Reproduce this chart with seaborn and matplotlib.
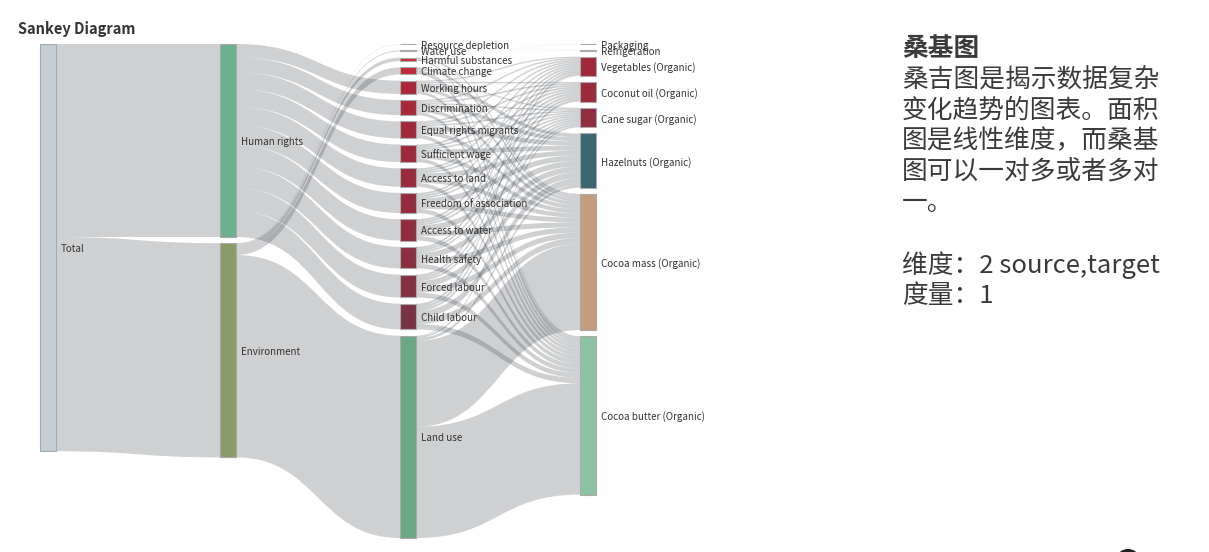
import numpy as np
import matplotlib
matplotlib.use("Agg")
import matplotlib.pyplot as plt
import seaborn as sns
from matplotlib.path import Path
from matplotlib.patches import PathPatch, Rectangle, Circle

# Columns of the sankey, top to bottom
col_source = ["Total"]
col_group = ["Human rights", "Environment"]
col_impact = ["Resource depletion", "Water use", "Harmful substances", "Climate change",
              "Working hours", "Discrimination", "Equal rights migrants", "Sufficient wage",
              "Access to land", "Freedom of association", "Access to water", "Health safety",
              "Forced labour", "Child labour", "Land use"]
col_product = ["Packaging", "Refrigeration", "Vegetables (Organic)", "Coconut oil (Organic)",
               "Cane sugar (Organic)", "Hazelnuts (Organic)", "Cocoa mass (Organic)",
               "Cocoa butter (Organic)"]
columns = [col_source, col_group, col_impact, col_product]

products = ["Vegetables (Organic)", "Cocoa butter (Organic)", "Coconut oil (Organic)",
            "Hazelnuts (Organic)", "Cocoa mass (Organic)", "Cane sugar (Organic)"]

# Links (source, target, value)
link_source = (["Total", "Total"]
               + ["Human rights"] * 10
               + ["Environment"] * 5
               + ["Land use"] * 5
               + ["Climate change"] * 6
               + ["Harmful substances"] * 5
               + ["Water use"] * 5
               + ["Resource depletion"] * 4)
link_target = (["Human rights", "Environment"]
               + ["Child labour", "Forced labour", "Health safety", "Access to water",
                  "Freedom of association", "Access to land", "Sufficient wage",
                  "Equal rights migrants", "Discrimination", "Working hours"]
               + ["Land use", "Climate change", "Harmful substances", "Water use", "Resource depletion"]
               + ["Cocoa butter (Organic)", "Cocoa mass (Organic)", "Hazelnuts (Organic)",
                  "Cane sugar (Organic)", "Vegetables (Organic)"]
               + ["Cocoa butter (Organic)", "Cocoa mass (Organic)", "Cane sugar (Organic)",
                  "Hazelnuts (Organic)", "Packaging", "Refrigeration"]
               + ["Cocoa butter (Organic)", "Cocoa mass (Organic)", "Cane sugar (Organic)",
                  "Hazelnuts (Organic)", "Packaging"]
               + ["Cocoa butter (Organic)", "Cocoa mass (Organic)", "Hazelnuts (Organic)",
                  "Cane sugar (Organic)", "Refrigeration"]
               + ["Cocoa butter (Organic)", "Cocoa mass (Organic)", "Packaging", "Refrigeration"])
link_value = ([0.3082, 0.3421]
              + [0.0411, 0.0366, 0.0345, 0.0341, 0.0321, 0.0294, 0.0281, 0.0271, 0.0240, 0.0212]
              + [0.3232, 0.0113, 0.0057, 0.0015, 0.0004]
              + [0.1777, 0.1372, 0.0043, 0.0030, 0.0010]
              + [0.0068, 0.0039, 0.0003, 0.0002, 0.00005, 0.00005]
              + [0.0026, 0.0025, 0.0003, 0.0002, 0.0001]
              + [0.0007, 0.0005, 0.0001, 0.0001, 0.0001]
              + [0.0002, 0.0001, 0.00005, 0.00005])

# Human rights categories -> products (order as in `products`)
hr_split = {
    "Child labour":           [0.0040, 0.0087, 0.0042, 0.0108, 0.0098, 0.0036],
    "Forced labour":          [0.0035, 0.0077, 0.0038, 0.0097, 0.0087, 0.0032],
    "Health safety":          [0.0033, 0.0073, 0.0035, 0.0092, 0.0082, 0.0030],
    "Access to water":        [0.0033, 0.0072, 0.0035, 0.0091, 0.0080, 0.0030],
    "Freedom of association": [0.0031, 0.0068, 0.0033, 0.0086, 0.0075, 0.0028],
    "Access to land":         [0.0028, 0.0062, 0.0030, 0.0078, 0.0070, 0.0026],
    "Sufficient wage":        [0.0027, 0.0059, 0.0029, 0.0075, 0.0066, 0.0025],
    "Equal rights migrants":  [0.0026, 0.0057, 0.0027, 0.0072, 0.0064, 0.0025],
    "Discrimination":         [0.0023, 0.0050, 0.0024, 0.0064, 0.0057, 0.0022],
    "Working hours":          [0.0020, 0.0045, 0.0021, 0.0056, 0.0051, 0.0019],
}
for cat, vals in hr_split.items():
    for prod, v in zip(products, vals):
        link_source.append(cat)
        link_target.append(prod)
        link_value.append(v)

node_colors = {
    "Total": "#c5cfd8", "Human rights": "#6bb08f", "Environment": "#8a9c66",
    "Resource depletion": "#c62a3b", "Water use": "#c62a3b", "Harmful substances": "#c8283a",
    "Climate change": "#c22a3a", "Working hours": "#ad283a", "Discrimination": "#a8283a",
    "Equal rights migrants": "#a2293b", "Sufficient wage": "#9d2a3c", "Access to land": "#982b3d",
    "Freedom of association": "#942c3e", "Access to water": "#8f2d3f", "Health safety": "#8a2e40",
    "Forced labour": "#853042", "Child labour": "#7a3345", "Land use": "#69a883",
    "Packaging": "#a0283a", "Refrigeration": "#a0283a", "Vegetables (Organic)": "#a0283a",
    "Coconut oil (Organic)": "#9a2b3c", "Cane sugar (Organic)": "#902e40",
    "Hazelnuts (Organic)": "#3a6672", "Cocoa mass (Organic)": "#c49c7e",
    "Cocoa butter (Organic)": "#8cc3a3",
}

# ---- layout ----
W, H = 1209, 552
top, bottom = 44, 538
x_left, x_step, node_w = 40, 180, 16
gap = 6.2

val_in = {}
val_out = {}
for s, t, v in zip(link_source, link_target, link_value):
    val_out[s] = val_out.get(s, 0) + v
    val_in[t] = val_in.get(t, 0) + v
node_val = {n: max(val_in.get(n, 0), val_out.get(n, 0)) for col in columns for n in col}

ky = min((bottom - top - (len(col) - 1) * gap) / sum(node_val[n] for n in col) for col in columns)

pos = {}
for i, col in enumerate(columns):
    y = top
    for n in col:
        h = node_val[n] * ky
        pos[n] = (x_left + i * x_step, y, h)
        y += h + gap

# ---- draw ----
sns.set_theme(style="white")
plt.rcParams["font.family"] = ["Noto Sans CJK SC", "DejaVu Sans"]

fig = plt.figure(figsize=(W / 100, H / 100), dpi=100)
ax = fig.add_axes([0, 0, 1, 1])
ax.set_xlim(0, W)
ax.set_ylim(H, 0)
ax.axis("off")

# link offsets: out-links ordered by target y, in-links by source y
links = list(zip(link_source, link_target, link_value))
out_off = {}
in_off = {}
for n in node_val:
    outs = sorted([l for l in links if l[0] == n], key=lambda l: pos[l[1]][1])
    y = pos[n][1]
    for l in outs:
        out_off[(l[0], l[1])] = y
        y += l[2] * ky
    ins = sorted([l for l in links if l[1] == n], key=lambda l: pos[l[0]][1])
    y = pos[n][1]
    for l in ins:
        in_off[(l[0], l[1])] = y
        y += l[2] * ky

for s, t, v in links:
    x0 = pos[s][0] + node_w
    x1 = pos[t][0]
    sy = out_off[(s, t)]
    ty = in_off[(s, t)]
    h = v * ky
    xm = (x0 + x1) / 2
    verts = [(x0, sy), (xm, sy), (xm, ty), (x1, ty),
             (x1, ty + h), (xm, ty + h), (xm, sy + h), (x0, sy + h), (x0, sy)]
    codes = [Path.MOVETO, Path.CURVE4, Path.CURVE4, Path.CURVE4,
             Path.LINETO, Path.CURVE4, Path.CURVE4, Path.CURVE4, Path.CLOSEPOLY]
    ax.add_patch(PathPatch(Path(verts, codes), facecolor="#303840", alpha=0.23,
                           edgecolor="none", zorder=1))

for n, (x, y, h) in pos.items():
    ax.add_patch(Rectangle((x, y), node_w, max(h, 0.3), facecolor=node_colors[n],
                           edgecolor="#aaaaaa", linewidth=0.8, zorder=3))
    ax.text(x + node_w + 5, y + h / 2 + 1.5, n, fontsize=7.05, color="#333333",
            va="center", ha="left", zorder=4)

ax.text(18, 29, "Sankey Diagram", fontsize=10.5, fontweight="bold", color="#333333",
        va="center", ha="left")

# description block on the right
ax.text(902, 48, "桑基图", fontsize=18.5, fontweight="bold", color="#3a3a3a", va="center", ha="left")
desc_lines = ["桑吉图是揭示数据复杂", "变化趋势的图表。面积", "图是线性维度，而桑基",
              "图可以一对多或者多对", "一。", "", "维度：2 source,target", "度量：1"]
for i, line in enumerate(desc_lines):
    ax.text(902, 80 + i * 30.8, line, fontsize=18.5, color="#3a3a3a", va="center", ha="left")

ax.add_patch(Circle((1128, 562), 13, facecolor="#222222", edgecolor="none", zorder=5))

fig.savefig("out.png", dpi=100)
